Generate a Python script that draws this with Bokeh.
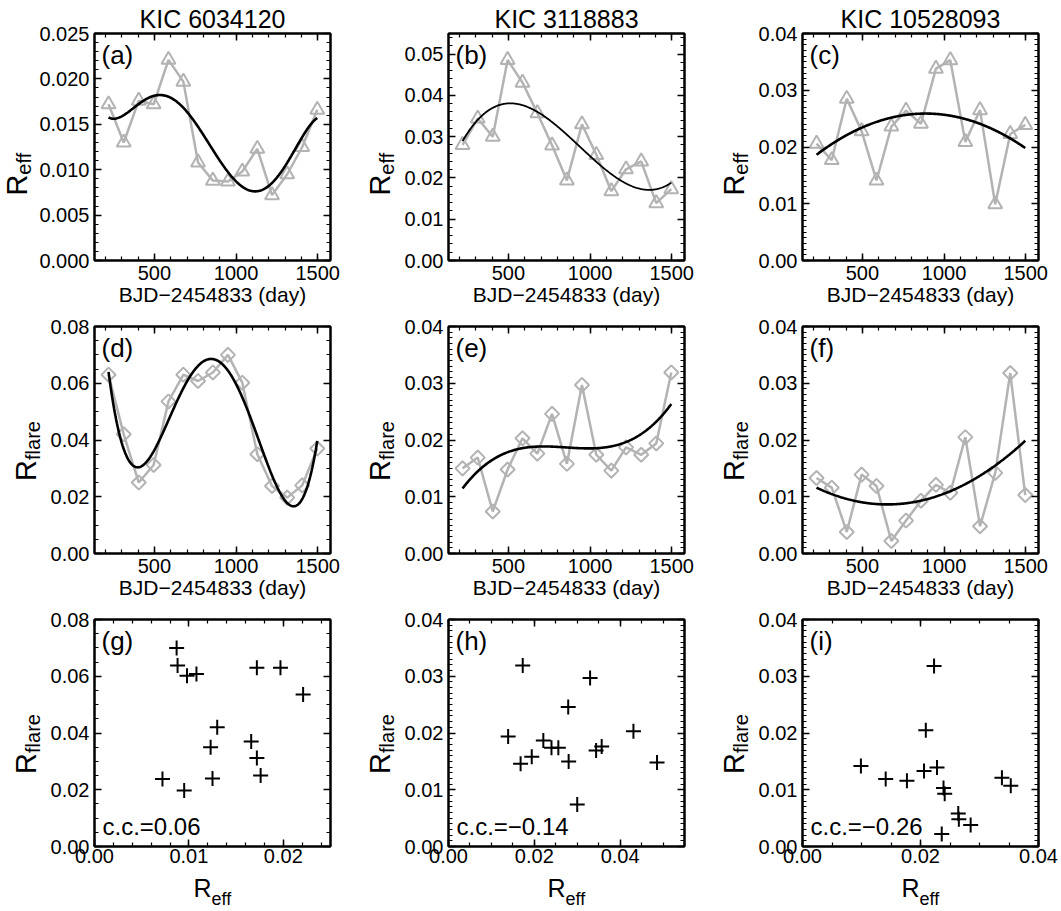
import numpy as np
from bokeh.plotting import figure
from bokeh.layouts import row, column
from bokeh.models import (Label, LinearAxis, Range1d, SingleIntervalTicker,
                          PrintfTickFormatter)
from bokeh.embed import file_html
from bokeh.resources import INLINE

# Mid-times of the observing quarters, BJD - 2454833 (day)
days = [219, 312, 404, 495, 586, 677, 767, 858, 950, 1038, 1130, 1220, 1313, 1405, 1497]

star_names = ["KIC 6034120", "KIC 3118883", "KIC 10528093"]

# Effective (spot) index per quarter
reff_6034120 = [0.0172, 0.0130, 0.0176, 0.0172, 0.0221, 0.0197, 0.0108, 0.0088,
                0.0087, 0.0098, 0.0123, 0.0072, 0.0095, 0.0125, 0.0166]
reff_3118883 = [0.0280, 0.0344, 0.0300, 0.0486, 0.0431, 0.0357, 0.0279, 0.0194,
                0.0330, 0.0256, 0.0168, 0.0221, 0.0240, 0.0139, 0.0173]
reff_10528093 = [0.0206, 0.0177, 0.0285, 0.0228, 0.0141, 0.0236, 0.0264, 0.0241,
                 0.0338, 0.0353, 0.0209, 0.0265, 0.0099, 0.0223, 0.0239]

# Flare rate per quarter
rflare_6034120 = [0.0630, 0.0420, 0.0250, 0.0312, 0.0536, 0.0630, 0.0608, 0.0638,
                  0.0700, 0.0602, 0.0350, 0.0238, 0.0197, 0.0240, 0.0370]
rflare_3118883 = [0.0150, 0.0169, 0.0074, 0.0148, 0.0203, 0.0176, 0.0246, 0.0158,
                  0.0297, 0.0174, 0.0146, 0.0187, 0.0174, 0.0194, 0.0319]
rflare_10528093 = [0.0133, 0.0116, 0.0038, 0.0139, 0.0119, 0.0022, 0.0058, 0.0093,
                   0.0121, 0.0107, 0.0205, 0.0048, 0.0142, 0.0318, 0.0103]

cc_text = ["c.c.=0.06", "c.c.=\u22120.14", "c.c.=\u22120.26"]
panel_tags = [["(a)", "(b)", "(c)"], ["(d)", "(e)", "(f)"], ["(g)", "(h)", "(i)"]]
time_label = "BJD\u22122454833 (day)"

# polynomial degree of the trend drawn through each time series
reff_fit_degree = [5, 3, 2]
rflare_fit_degree = [4, 3, 2]

reff_all = [reff_6034120, reff_3118883, reff_10528093]
rflare_all = [rflare_6034120, rflare_3118883, rflare_10528093]

# axis extents and tick spacing
day_range = (133, 1578)
reff_ranges = [(0, 0.025), (0, 0.055), (0, 0.04)]
rflare_ranges = [(0, 0.08), (0, 0.04), (0, 0.04)]
reff_steps = [0.005, 0.01, 0.01]
reff_minor = [5, 5, 10]
reff_fmt = ["%.3f", "%.2f", "%.2f"]
rflare_steps = [0.02, 0.01, 0.01]
rflare_minor = [4, 10, 10]
scatter_x_steps = [0.01, 0.02, 0.02]
scatter_x_minor = [5, 4, 4]

# ---- layout constants (pixels) ----
FONT = "Liberation Sans"
GRAY = "#b3b3b3"
FW, FH = 236, 227
TICK_PX = "20px"
FRAME_LEFT = [94, 448, 802]
# width of the y-title strip in front of each panel, per row
YSTRIP_W = [[35, 45, 45], [45, 45, 45], [45, 45, 45]]
# horizontal centre of the rotated "R" inside its strip
YTITLE_X = [[16, 25, 25], [25, 25, 25], [25, 25, 25]]
YTITLE_RAISE = {"eff": 6, "flare": 0}
RIGHT_PAD = [24, 24, 23]
ROW_TOP = [33, 11, 11]
ROW_BOTTOM = [55, 55, 25]
XTICK_STANDOFF = [5, 5, 2]
FIT_WIDTH = [2.6, 1.8, 2.6]
YBIG, YSMALL, YDROP = 29, 20, 4
XBIG, XSMALL = 25, 18
MID = 0.3465          # distance from baseline to the em-box middle, in em


def style_axis(ax, step, minor, fmt, labels=True, standoff=5):
    ax.ticker = SingleIntervalTicker(interval=step, num_minor_ticks=minor)
    ax.formatter = PrintfTickFormatter(format=fmt)
    ax.axis_line_color = "black"
    ax.axis_line_width = 2
    ax.major_tick_in = 7
    ax.major_tick_out = 0
    ax.minor_tick_in = 4
    ax.minor_tick_out = 0
    ax.major_tick_line_color = "black"
    ax.minor_tick_line_color = "black"
    ax.major_tick_line_width = 1.5
    ax.minor_tick_line_width = 1.2
    ax.major_label_text_font = FONT
    ax.major_label_text_font_size = TICK_PX
    ax.major_label_text_color = "black"
    ax.major_label_standoff = standoff
    if not labels:
        ax.major_label_text_font_size = "0px"
        ax.major_label_text_color = None
        ax.major_label_standoff = 0


def make_panel(x_rng, y_rng, xs, xm, xf, ys, ym, yf, left, right, top, bottom, xstand):
    p = figure(frame_width=FW, frame_height=FH,
               x_range=Range1d(*x_rng), y_range=Range1d(*y_rng),
               output_backend="svg", toolbar_location=None,
               min_border_left=left, min_border_right=right,
               min_border_top=top, min_border_bottom=bottom,
               background_fill_color="white", border_fill_color="white")
    p.xgrid.visible = False
    p.ygrid.visible = False
    p.outline_line_color = "black"
    p.outline_line_width = 2
    style_axis(p.below[0], xs, xm, xf, standoff=xstand)
    style_axis(p.left[0], ys, ym, yf)
    top_ax = LinearAxis()
    style_axis(top_ax, xs, xm, xf, labels=False)
    p.add_layout(top_ax, "above")
    right_ax = LinearAxis()
    style_axis(right_ax, ys, ym, yf, labels=False)
    p.add_layout(right_ax, "right")
    return p


def blank(width, height):
    return figure(frame_width=width, frame_height=height,
                  x_range=Range1d(0, 1), y_range=Range1d(0, 1),
                  x_axis_type=None, y_axis_type=None,
                  output_backend="svg", toolbar_location=None, min_border=0,
                  outline_line_color=None,
                  background_fill_color="white", border_fill_color="white")


def text(p, x, y, s, size, align="left", baseline="middle", angle=0.0):
    p.add_layout(Label(x=x, y=y, x_units="screen", y_units="screen", text=s,
                       text_font=FONT, text_font_size=f"{size}px", text_color="black",
                       text_align=align, text_baseline=baseline, angle=angle))


def sub_width(sub, size):
    return {"eff": 1.112, "flare": 1.945}[sub] * size


def y_title(strip, xc, yc, sub):
    # rotated "R" followed by a lowered subscript, centred on yc
    w_main = 0.722 * YBIG
    y0 = yc - (w_main + sub_width(sub, YSMALL)) / 2
    base = xc + MID * YBIG
    text(strip, xc, y0, "R", YBIG, angle=np.pi / 2)
    text(strip, base + YDROP - MID * YSMALL, y0 + w_main, sub, YSMALL, angle=np.pi / 2)


def x_title(strip, xc, y_main, y_sub, sub):
    w_main = 0.722 * XBIG
    x0 = xc - (w_main + sub_width(sub, XSMALL)) / 2
    text(strip, x0, y_main, "R", XBIG)
    text(strip, x0 + w_main, y_sub, sub, XSMALL)


def time_axis_label(p):
    ax = p.below[0]
    ax.axis_label = time_label
    ax.axis_label_text_font = FONT
    ax.axis_label_text_font_size = "21px"
    ax.axis_label_text_font_style = "normal"
    ax.axis_label_text_color = "black"
    ax.axis_label_standoff = 0


def star_title(p, name):
    p.title.text = name
    p.title.align = "center"
    p.title.vertical_align = "middle"
    p.title.standoff = 0
    p.title.text_font = FONT
    p.title.text_font_size = "25px"
    p.title.text_font_style = "normal"
    p.title.text_color = "black"


t = np.array(days, dtype=float)
tt = np.linspace(t[0], t[-1], 300)

rows = []
for r_i in range(3):
    row_height = ROW_TOP[r_i] + FH + ROW_BOTTOM[r_i]
    items = []
    for c in range(3):
        left = 94 - YSTRIP_W[r_i][c]
        frame_args = (left, RIGHT_PAD[c], ROW_TOP[r_i], ROW_BOTTOM[r_i], XTICK_STANDOFF[r_i])
        if r_i == 0:
            p = make_panel(day_range, reff_ranges[c], 500, 5, "%d",
                           reff_steps[c], reff_minor[c], reff_fmt[c], *frame_args)
            p.line(days, reff_all[c], line_color=GRAY, line_width=2.5)
            p.scatter(days, reff_all[c], marker="triangle", size=14, fill_color=None,
                      line_color=GRAY, line_width=2)
            coef = np.polyfit(t, np.array(reff_all[c]), reff_fit_degree[c])
            p.line(tt, np.polyval(coef, tt), line_color="black", line_width=FIT_WIDTH[c])
            time_axis_label(p)
            star_title(p, star_names[c])
            sub = "eff"
        elif r_i == 1:
            p = make_panel(day_range, rflare_ranges[c], 500, 5, "%d",
                           rflare_steps[c], rflare_minor[c], "%.2f", *frame_args)
            p.line(days, rflare_all[c], line_color=GRAY, line_width=2.5)
            p.scatter(days, rflare_all[c], marker="square", angle=np.pi / 4, size=10,
                      fill_color=None, line_color=GRAY, line_width=2)
            coef = np.polyfit(t, np.array(rflare_all[c]), rflare_fit_degree[c])
            p.line(tt, np.polyval(coef, tt), line_color="black", line_width=2.6)
            time_axis_label(p)
            sub = "flare"
        else:
            p = make_panel(reff_ranges[c], rflare_ranges[c], scatter_x_steps[c],
                           scatter_x_minor[c], "%.2f", rflare_steps[c], rflare_minor[c],
                           "%.2f", *frame_args)
            p.scatter(reff_all[c], rflare_all[c], marker="cross", size=15,
                      line_color="black", line_width=2)
            text(p, 8, 20, cc_text[c], 24)
            sub = "flare"
        text(p, 7, FH - 6, panel_tags[r_i][c], 26, baseline="top")

        strip = blank(YSTRIP_W[r_i][c], row_height)
        y_title(strip, YTITLE_X[r_i][c],
                ROW_BOTTOM[r_i] + FH / 2 + YTITLE_RAISE[sub], sub)
        items.extend([strip, p])
    rows.append(row(*items))

used = sum(ROW_TOP[i] + FH + ROW_BOTTOM[i] for i in range(3))
# keep one spare pixel so the page never overflows the window
xlab_h = 911 - used - 1

# x titles under the scatter panels
bottom_strip = blank(1061, xlab_h)
for c in range(3):
    x_title(bottom_strip, FRAME_LEFT[c] + FW / 2, xlab_h - 16, xlab_h - 27, "eff")

page = column(*rows, bottom_strip)
open("out.html", "w").write(file_html(page, INLINE))
